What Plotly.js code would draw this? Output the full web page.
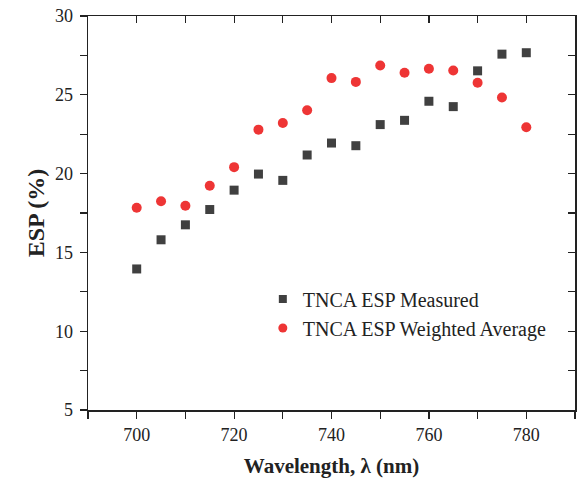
<!DOCTYPE html>
<html>
<head>
<meta charset="utf-8">
<script src="https://cdn.plot.ly/plotly-3.0.1.min.js"></script>
<style>html,body{margin:0;padding:0;background:#fff;}#chart{width:585px;height:484px;}</style>
</head>
<body>
<div id="chart"></div>
<script>
const wavelength = [700,705,710,715,720,725,730,735,740,745,750,755,760,765,770,775,780];
const espMeasured = [13.95,15.8,16.75,17.72,18.95,19.97,19.57,21.18,21.94,21.77,23.11,23.38,24.59,24.25,26.52,27.58,27.67];
const espWeighted = [17.83,18.25,17.96,19.23,20.41,22.79,23.21,24.02,26.06,25.82,26.86,26.4,26.65,26.54,25.76,24.83,22.94];
const seriesNames = ['TNCA ESP Measured','TNCA ESP Weighted Average'];
const xTickVals = [700,720,740,760,780];
const yTickVals = [5,10,15,20,25,30];

const serif = '"Liberation Serif", serif';
const sqColor = '#404040';
const ciColor = '#ee3535';

const data = [
  {x: wavelength, y: espMeasured, type:'scatter', mode:'markers', showlegend:false,
   marker:{symbol:'square', size:9, color:sqColor}},
  {x: wavelength, y: espWeighted, type:'scatter', mode:'markers', showlegend:false,
   marker:{symbol:'circle', size:10, color:ciColor}},
  {x:[null], y:[null], type:'scatter', mode:'markers', name:seriesNames[0],
   marker:{symbol:'square', size:8, color:sqColor}},
  {x:[null], y:[null], type:'scatter', mode:'markers', name:seriesNames[1],
   marker:{symbol:'circle', size:9, color:ciColor}},
  {x:[null], y:[null], xaxis:'x2', yaxis:'y2', type:'scatter', mode:'markers', showlegend:false}
];

const layout = {
  width:585, height:484,
  margin:{l:88, r:10, t:16, b:74},
  paper_bgcolor:'#fff', plot_bgcolor:'#fff',
  font:{family:serif, size:18, color:'#222'},
  showlegend:true,
  legend:{x:0.359, y:0.245, xanchor:'left', yanchor:'middle', bgcolor:'rgba(0,0,0,0)',
          font:{family:serif, size:20, color:'#222'}, tracegroupgap:0},
  xaxis:{range:[690,790], tickvals:xTickVals, ticks:'outside', ticklen:7, tickwidth:1.2,
         tickcolor:'#222', showline:true, linecolor:'#222', linewidth:1.5, mirror:true,
         showgrid:false, zeroline:false, ticklabelstandoff:1,
         minor:{dtick:10, tick0:690, ticks:'outside', ticklen:7, tickwidth:1.2, tickcolor:'#222', showgrid:false},
         title:{text:'<b>Wavelength, λ (nm)</b>', font:{family:serif, size:21, color:'#222'}, standoff:14}},
  yaxis:{range:[5,30], tickvals:yTickVals, ticks:'outside', ticklen:7, tickwidth:1.2,
         tickcolor:'#222', showline:true, linecolor:'#222', linewidth:1.5, mirror:true,
         showgrid:false, zeroline:false, ticklabelstandoff:3,
         minor:{dtick:2.5, tick0:5, ticks:'outside', ticklen:7, tickwidth:1.2, tickcolor:'#222', showgrid:false},
         title:{text:'<b>ESP (%)</b>', font:{family:serif, size:24, color:'#222'}, standoff:3}},
  xaxis2:{overlaying:'x', side:'top', anchor:'y', range:[690,790], dtick:10, tick0:690,
          ticks:'inside', ticklen:7, tickwidth:1.2, tickcolor:'#222', showticklabels:false,
          showgrid:false, zeroline:false, showline:false},
  yaxis2:{overlaying:'y', side:'right', anchor:'x', range:[5,30], dtick:2.5, tick0:5,
          ticks:'inside', ticklen:7, tickwidth:1.2, tickcolor:'#222', showticklabels:false,
          showgrid:false, zeroline:false, showline:false}
};

Plotly.newPlot('chart', data, layout, {staticPlot:true, displayModeBar:false});
</script>
</body>
</html>
